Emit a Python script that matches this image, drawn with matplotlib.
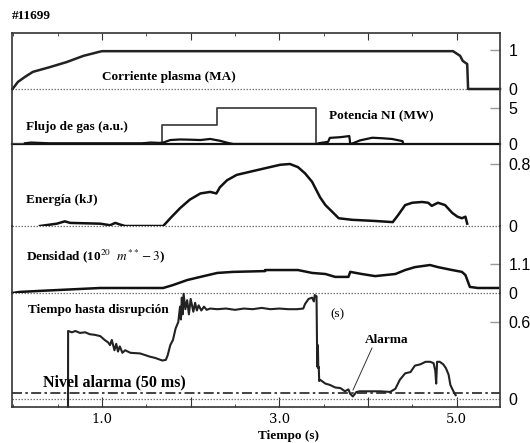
import matplotlib
matplotlib.use("Agg")
import matplotlib.pyplot as plt
from matplotlib.ticker import MultipleLocator, FixedLocator

plt.rcParams['mathtext.fontset'] = 'stix'

# ---------------- data ----------------
cur_t = [-0.01, 0.05, 0.13, 0.22, 0.41, 0.60, 0.79, 0.98, 1.00, 4.96, 5.04, 5.07, 5.12, 5.13, 5.49]
cur_v = [0.0, 0.18, 0.31, 0.44, 0.56, 0.69, 0.85, 0.96, 0.97, 0.97, 0.85, 0.72, 0.64, 0.0, 0.0]

gas_t = [-0.016, 1.68, 1.68, 2.30, 2.30, 3.41, 3.41, 3.43]
gas_v = [0.0, 0.0, 2.6, 2.6, 5.05, 5.05, 0.0, 0.0]

ni_t = [0.13, 0.20, 0.30, 0.40, 1.45, 1.55, 1.65, 1.69, 1.77, 1.88, 1.99, 2.11, 2.22, 2.33, 2.42, 2.48,
        3.43, 3.44, 3.55, 3.57, 3.69, 3.79, 3.80, 3.83, 3.91, 4.05, 4.16, 4.27, 4.39, 4.40]
ni_v = [0.1, 0.2, 0.15, 0.1, 0.1, 0.2, 0.15, 0.2, 0.55, 0.63, 0.6, 0.55, 0.7, 0.45, 0.15, 0.0,
        0.0, 0.1, 0.3, 0.85, 0.95, 1.1, 0.0, 0.1, 0.5, 0.87, 0.8, 0.7, 0.4, 0.0]

en_t = [0.30, 0.49, 0.58, 0.64, 0.98, 1.09, 1.15, 1.20, 1.26, 1.69, 1.77, 1.88, 1.99, 2.11, 2.22, 2.29,
        2.33, 2.41, 2.52, 2.67, 2.82, 3.01, 3.12, 3.21, 3.29, 3.37, 3.46, 3.52, 3.60, 3.67, 3.82, 4.08,
        4.28, 4.34, 4.42, 4.50, 4.61, 4.68, 4.72, 4.79, 4.87, 4.95, 5.01, 5.06, 5.10, 5.12]
en_v = [0.0, 0.03, 0.06, 0.04, 0.03, 0.01, 0.04, 0.02, 0.0, 0.0, 0.10, 0.23, 0.34, 0.42, 0.44, 0.42,
        0.50, 0.59, 0.66, 0.70, 0.74, 0.79, 0.80, 0.76, 0.68, 0.57, 0.37, 0.27, 0.18, 0.10, 0.08, 0.065,
        0.05, 0.14, 0.27, 0.30, 0.31, 0.30, 0.26, 0.30, 0.27, 0.17, 0.12, 0.10, 0.12, 0.03]

den_t = [-0.01, 0.07, 0.30, 0.98, 1.69, 1.80, 1.96, 2.11, 2.30, 2.48, 2.84, 2.84, 3.21, 3.37, 3.52, 3.63,
         3.78, 3.80, 3.93, 4.08, 4.31, 4.42, 4.53, 4.70, 4.79, 4.95, 5.06, 5.10, 5.15, 5.24, 5.47]
den_v = [0.0, 0.04, 0.08, 0.19, 0.19, 0.30, 0.49, 0.61, 0.76, 0.80, 0.83, 0.87, 0.87, 0.76, 0.72, 0.61,
         0.61, 0.80, 0.72, 0.64, 0.72, 0.87, 0.98, 1.06, 0.98, 0.87, 0.80, 0.68, 0.23, 0.19, 0.19]

dis_t = [0.616, 0.617, 0.66, 0.70, 0.75, 0.81, 0.86, 0.92, 0.98, 1.03, 1.07, 1.09, 1.11, 1.14, 1.16,
         1.18, 1.20, 1.23, 1.26, 1.32, 1.43, 1.54, 1.60, 1.68, 1.72, 1.74, 1.77, 1.80, 1.83, 1.86, 1.88,
         1.89, 1.90, 1.91, 1.92, 1.94, 1.96, 1.98, 2.00, 2.03, 2.05, 2.07, 2.09, 2.12, 2.15, 2.18, 2.22,
         2.30, 2.40, 2.50, 2.60, 2.70, 2.80, 2.90, 3.00, 3.10, 3.20, 3.27, 3.29, 3.33, 3.37, 3.39, 3.40,
         3.42, 3.425, 3.43, 3.435, 3.44, 3.445, 3.45, 3.46, 3.52, 3.57, 3.63, 3.69, 3.74, 3.78, 3.80,
         3.83, 3.87, 3.91, 4.03, 4.14, 4.25, 4.31, 4.36, 4.42, 4.48, 4.53, 4.59, 4.65, 4.70, 4.74, 4.76,
         4.77, 4.78, 4.81, 4.85, 4.88, 4.91, 4.93, 4.95, 4.98, 4.99]
dis_v = [-0.06, 0.53, 0.52, 0.53, 0.515, 0.52, 0.505, 0.50, 0.49, 0.46, 0.44, 0.42, 0.46, 0.38, 0.43,
         0.37, 0.41, 0.36, 0.38, 0.36, 0.355, 0.33, 0.32, 0.30, 0.305, 0.34, 0.42, 0.46, 0.55, 0.60, 0.72,
         0.62, 0.79, 0.66, 0.82, 0.70, 0.77, 0.66, 0.78, 0.68, 0.75, 0.69, 0.73, 0.69, 0.72, 0.695, 0.705,
         0.70, 0.705, 0.695, 0.705, 0.70, 0.71, 0.70, 0.705, 0.70, 0.70, 0.705, 0.74, 0.78, 0.79, 0.76, 0.81,
         0.80, 0.45, 0.25, 0.42, 0.24, 0.25, 0.14, 0.15, 0.12, 0.11, 0.09, 0.085, 0.06, 0.075, 0.04,
         0.02, 0.055, 0.06, 0.06, 0.06, 0.055, 0.08, 0.15, 0.20, 0.21, 0.26, 0.27, 0.29, 0.29, 0.28, 0.22,
         0.12, 0.29, 0.29, 0.27, 0.24, 0.19, 0.11, 0.08, 0.04, 0.03]

alarm_level = 0.05

panel_ticks = [[0, 1], [0, 5], [0, 0.8], [0, 1.1], [0, 0.6]]
panel_ticklabels = [["0", "1"], ["0", "5"], ["0", "0.8"], ["0", "1.1"], ["0", "0.6"]]
x_major = [1.0, 2.0, 3.0, 4.0, 5.0]
x_labels = ["1.0", "", "3.0", "", "5.0"]

# ---------------- layout ----------------
W, H = 530, 443
fig = plt.figure(figsize=(W / 100, H / 100), dpi=100)
heights = [56, 55, 82, 67, 114]
gs = fig.add_gridspec(5, 1, height_ratios=heights, hspace=0,
                      left=12 / W, right=500 / W, top=1 - 33 / H, bottom=1 - 407 / H)
axes = [fig.add_subplot(gs[i]) for i in range(5)]

ylims = [(0, 56 / 39), (0, 55 / 7.2), (0, 82 / 77.5), (0, 67 / 26.4), (-8 / 128.3, 106 / 128.3)]
XL = (-0.016, 5.49)
frame_col = '#333333'
dot_style = dict(color='#777777', linestyle=(0, (1.2, 1.2)), lw=0.9, clip_on=False)

for i, ax in enumerate(axes):
    ax.set_xlim(*XL)
    ax.set_ylim(*ylims[i])
    for s in ax.spines.values():
        s.set_color(frame_col)
        s.set_linewidth(1.2)
    if i != 0:
        ax.spines['top'].set_visible(False)
    if i != 4:
        ax.spines['bottom'].set_visible(False)
    ax.yaxis.tick_right()
    ax.set_yticks(panel_ticks[i])
    ax.set_yticklabels(panel_ticklabels[i], fontfamily='Liberation Sans', fontsize=11.5)
    ax.tick_params(axis='y', direction='in', length=7, color='#999999', pad=6, width=1.0)
    for t in ax.yaxis.get_major_ticks():
        if t.get_loc() == 0:
            t.tick2line.set_visible(False)
            t.tick1line.set_visible(False)
    ax.set_facecolor('none')
    if i == 0:
        ax.xaxis.tick_top()
        ax.xaxis.set_major_locator(FixedLocator(x_major))
        ax.xaxis.set_minor_locator(MultipleLocator(0.5))
        ax.tick_params(axis='x', which='major', direction='in', length=5, color=frame_col, labeltop=False)
        ax.tick_params(axis='x', which='minor', direction='in', length=2, color=frame_col)
    elif i == 4:
        ax.xaxis.set_major_locator(FixedLocator(x_major))
        ax.set_xticklabels(x_labels, fontfamily='DejaVu Serif', fontsize=9.5)
        ax.xaxis.set_minor_locator(MultipleLocator(0.5))
        ax.tick_params(axis='x', which='major', direction='in', length=7, color=frame_col, pad=4)
        ax.tick_params(axis='x', which='minor', direction='in', length=2, color=frame_col)
    else:
        ax.set_xticks([])

# panel 1: plasma current
a = axes[0]
a.axhline(0, **dot_style)
a.plot(cur_t, cur_v, color='#222222', lw=1.8, clip_on=False, solid_joinstyle='round')

# panel 2: gas flux and NI power
a = axes[1]
a.axhline(0, color='#111111', lw=1.6, clip_on=False)
a.plot(gas_t, gas_v, color='#444444', lw=1.3)
a.plot(ni_t, ni_v, color='#111111', lw=1.6)

# panel 3: energy
a = axes[2]
a.axhline(0, **dot_style)
a.plot(en_t, en_v, color='#111111', lw=1.8)

# panel 4: density
a = axes[3]
a.axhline(0, **dot_style)
a.plot(den_t, den_v, color='#111111', lw=1.8)

# panel 5: time to disruption
a = axes[4]
a.axhline(0, **dot_style)
a.axhline(alarm_level, color='#222222', lw=1.2, linestyle=(0, (6, 2, 1.5, 2)))
a.plot(dis_t, dis_v, color='#222222', lw=1.5, clip_on=False)

# ---------------- texts ----------------
def ftext(x, y, s, size=9.5, ha='left', weight='bold', **kw):
    fig.text(x / W, 1 - y / H, s, fontsize=size, ha=ha, va='center',
             fontfamily='Liberation Serif', fontweight=weight, **kw)

ftext(12, 16, "#11699", size=9.5)
ftext(102, 77, "Corriente plasma (MA)")
ftext(26, 127, "Flujo de gas (a.u.)")
ftext(329, 115, "Potencia NI (MW)")
ftext(26, 200, "Energía (kJ)")
ftext(26, 256, r"Densidad (10$^{20}$  $m^{**}-3$)")
ftext(28, 310, "Tiempo hasta disrupción")
ftext(330, 314, "(s)", weight='normal')
ftext(365, 340, "Alarma")
ftext(43, 382, "Nivel alarma (50 ms)", size=11.5)
ftext(288, 436, "Tiempo (s)", ha='center')

# annotation line for alarm
fig.add_artist(plt.Line2D([372 / W, 353 / W], [1 - 348 / H, 1 - 390 / H],
                          color='#333333', lw=0.7, transform=fig.transFigure))

fig.savefig("out.png", dpi=100)
